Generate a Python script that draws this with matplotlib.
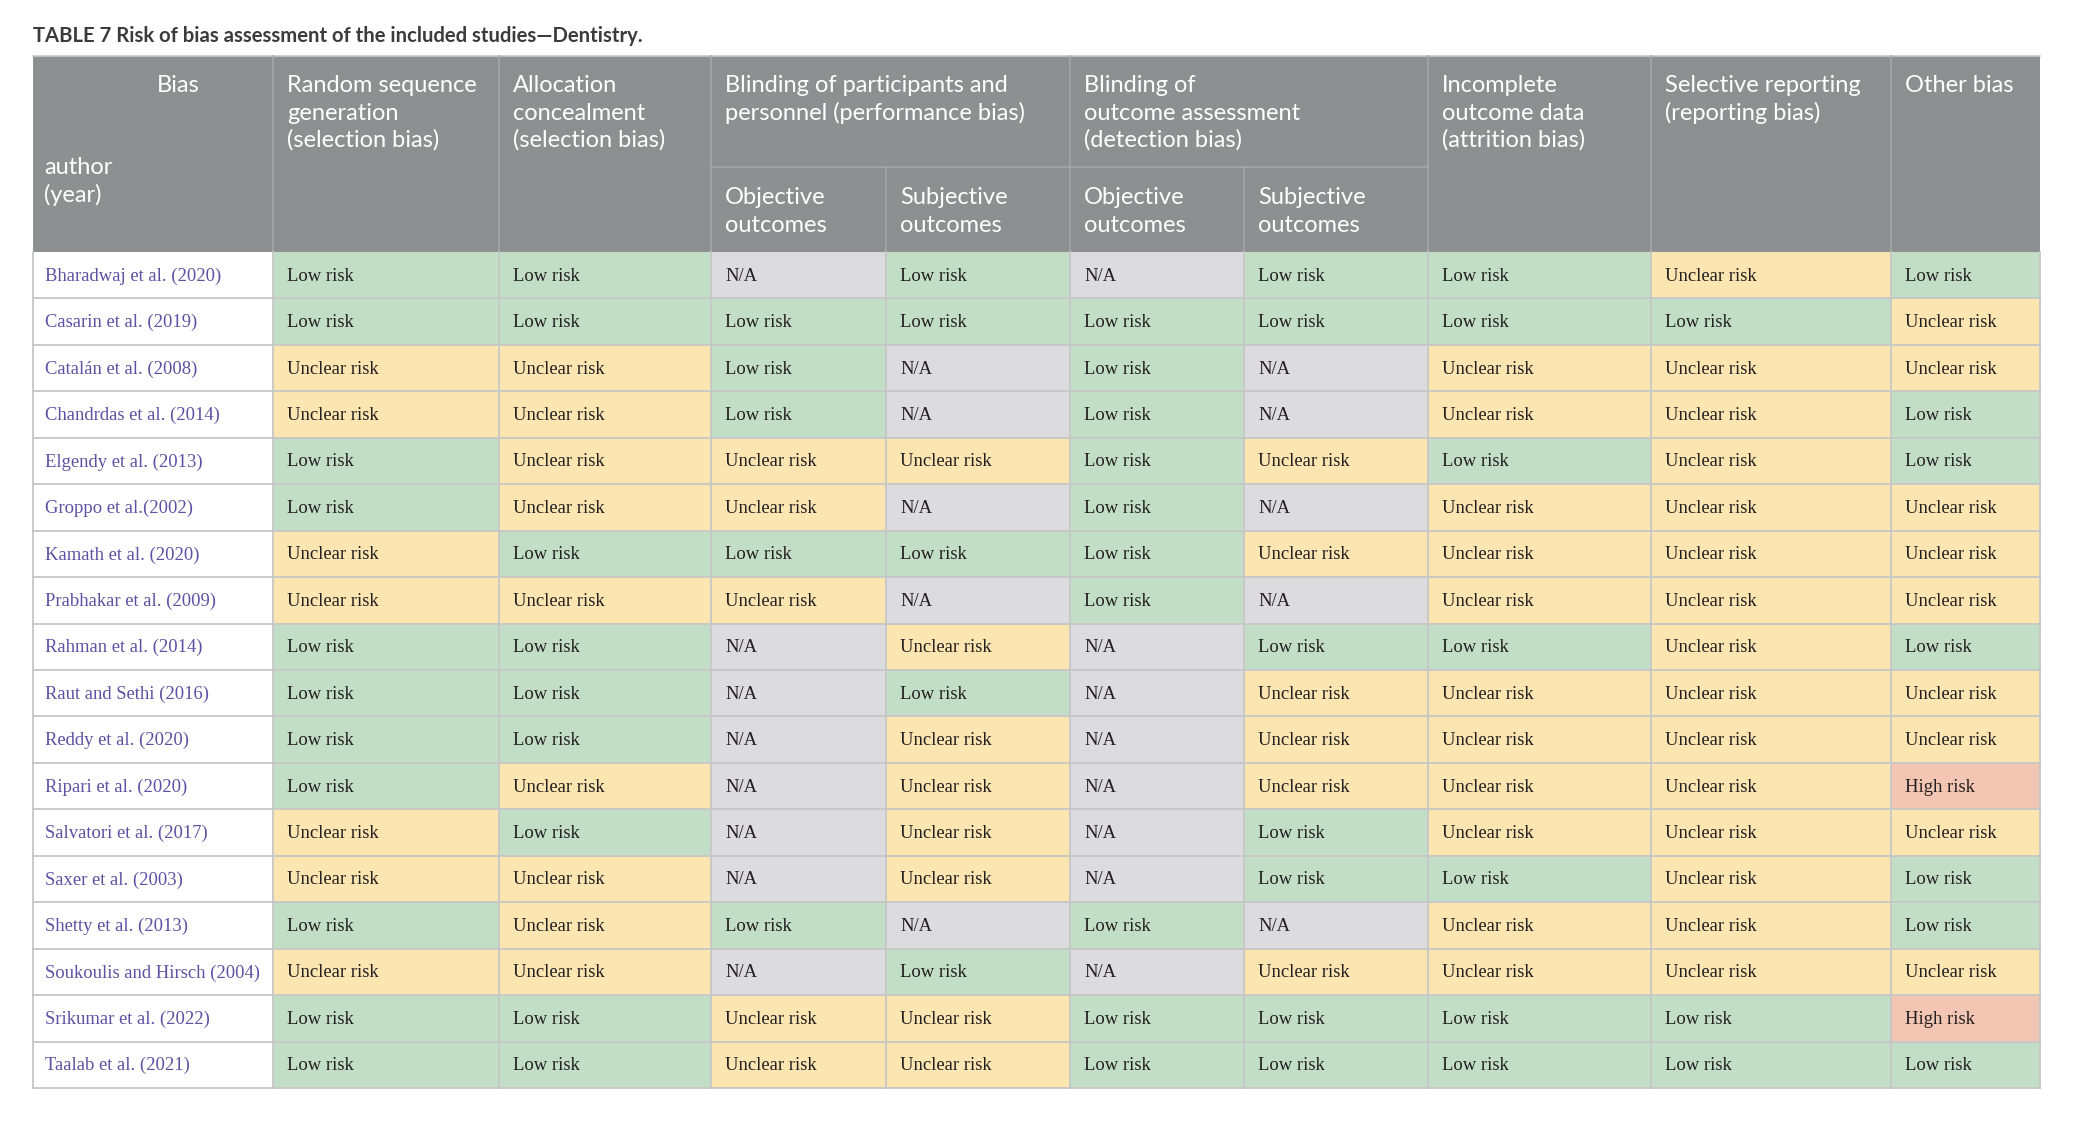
import matplotlib
matplotlib.use("Agg")
import matplotlib.pyplot as plt
from matplotlib.patches import Rectangle

# ---------------- data ----------------
title = "TABLE 7 Risk of bias assessment of the included studies\u2014Dentistry."

authors = [
    "Bharadwaj et al. (2020)", "Casarin et al. (2019)", "Catal\u00e1n et al. (2008)",
    "Chandrdas et al. (2014)", "Elgendy et al. (2013)", "Groppo et al.(2002)",
    "Kamath et al. (2020)", "Prabhakar et al. (2009)", "Rahman et al. (2014)",
    "Raut and Sethi (2016)", "Reddy et al. (2020)", "Ripari et al. (2020)",
    "Salvatori et al. (2017)", "Saxer et al. (2003)", "Shetty et al. (2013)",
    "Soukoulis and Hirsch (2004)", "Srikumar et al. (2022)", "Taalab et al. (2021)",
]

L, U, N, H = "Low risk", "Unclear risk", "N/A", "High risk"

random_sequence = [L, L, U, U, L, L, U, U, L, L, L, L, U, U, L, U, L, L]
allocation      = [L, L, U, U, U, U, L, U, L, L, L, U, L, U, U, U, L, L]
perf_objective  = [N, L, L, L, U, U, L, U, N, N, N, N, N, N, L, N, U, U]
perf_subjective = [L, L, N, N, U, N, L, N, U, L, U, U, U, U, N, L, U, U]
det_objective   = [N, L, L, L, L, L, L, L, N, N, N, N, N, N, L, N, L, L]
det_subjective  = [L, L, N, N, U, N, U, N, L, U, U, U, L, L, N, U, L, L]
incomplete      = [L, L, U, U, L, U, U, U, L, U, U, U, U, L, U, U, L, L]
selective       = [U, L, U, U, U, U, U, U, U, U, U, U, U, U, U, U, L, L]
other_bias      = [L, U, U, L, L, U, U, U, L, U, U, H, U, L, L, U, H, L]

columns = [random_sequence, allocation, perf_objective, perf_subjective,
           det_objective, det_subjective, incomplete, selective, other_bias]

group_headers = [
    "Random sequence\ngeneration\n(selection bias)",
    "Allocation\nconcealment\n(selection bias)",
    "Blinding of participants and\npersonnel (performance bias)",
    "Blinding of\noutcome assessment\n(detection bias)",
    "Incomplete\noutcome data\n(attrition bias)",
    "Selective reporting\n(reporting bias)",
    "Other bias",
]
sub_headers = ["Objective\noutcomes", "Subjective\noutcomes",
               "Objective\noutcomes", "Subjective\noutcomes"]

# ---------------- style / layout ----------------
W, Hpx = 2079, 1136
col_edges = [33, 273, 499, 711, 886, 1070, 1244, 1428, 1651, 1891, 2040]
top, sub_y, head_bot, bottom = 56, 167, 252, 1088
group_spans = [(1, 2), (2, 3), (3, 5), (5, 7), (7, 8), (8, 9), (9, 10)]

fill = {L: "#c2dec7", U: "#fbe5b1", N: "#dcdcdf", H: "#f2c6b3"}
header_bg = "#8e8f91"
header_line = "#a6a7a9"
grid = "#c6c6c6"
author_color = "#5a52a3"
text_color = "#231f20"

head_font = "Lato"
body_font = "Liberation Serif"

fig = plt.figure(figsize=(W / 100, Hpx / 100), dpi=100)
ax = fig.add_axes([0, 0, 1, 1])
ax.set_xlim(0, W)
ax.set_ylim(Hpx, 0)
ax.axis("off")

# title
ax.text(col_edges[0], 36, title, ha="left", va="center", fontsize=14.6,
        fontweight="bold", family=head_font, color="#3b3b3b")

# header background
ax.add_patch(Rectangle((col_edges[0], top), col_edges[-1] - col_edges[0],
                       head_bot - top, facecolor=header_bg, edgecolor="none"))
ax.plot([col_edges[0], col_edges[-1]], [top, top], color="#c9c9c9", lw=1.2)

# header separators
for i in range(1, len(col_edges) - 1):
    x = col_edges[i]
    if i in (4, 6):
        ax.plot([x, x], [sub_y, head_bot], color=header_line, lw=1.2)
    else:
        ax.plot([x, x], [top, head_bot], color=header_line, lw=1.2)
ax.plot([col_edges[3], col_edges[7]], [sub_y, sub_y], color=header_line, lw=1.2)

line_h = 27
hfs = 17
ax.text(178, 86, "Bias", ha="center", va="center", fontsize=hfs,
        family=head_font, color="white")
ax.text(44, 168, "author", ha="left", va="center", fontsize=hfs,
        family=head_font, color="white")
ax.text(44, 168 + line_h, "(year)", ha="left", va="center", fontsize=hfs,
        family=head_font, color="white")

for (a, b), txt in zip(group_spans, group_headers):
    for k, line in enumerate(txt.split("\n")):
        ax.text(col_edges[a] + 14, 86 + k * line_h, line, ha="left", va="center",
                fontsize=hfs, family=head_font, color="white")

for j, txt in enumerate(sub_headers):
    for k, line in enumerate(txt.split("\n")):
        ax.text(col_edges[3 + j] + 14, 198 + k * line_h, line, ha="left",
                va="center", fontsize=hfs, family=head_font, color="white")

# body
n = len(authors)
rh = (bottom - head_bot) / n
for r, name in enumerate(authors):
    y0 = head_bot + r * rh
    yc = y0 + rh / 2
    ax.text(col_edges[0] + 12, yc + 1, name, ha="left", va="center",
            fontsize=13.4, family=body_font, color=author_color)
    for c, col in enumerate(columns):
        val = col[r]
        x0, x1 = col_edges[c + 1], col_edges[c + 2]
        ax.add_patch(Rectangle((x0, y0), x1 - x0, rh, facecolor=fill[val],
                               edgecolor="none"))
        ax.text(x0 + 14, yc + 1, val, ha="left", va="center", fontsize=13.4,
                family=body_font, color=text_color)

# body grid
for r in range(1, n + 1):
    y = head_bot + r * rh
    ax.plot([col_edges[0], col_edges[-1]], [y, y], color=grid, lw=1.3)
for x in col_edges:
    ax.plot([x, x], [head_bot, bottom], color=grid, lw=1.3)

fig.savefig("out.png", dpi=100, facecolor="white")
